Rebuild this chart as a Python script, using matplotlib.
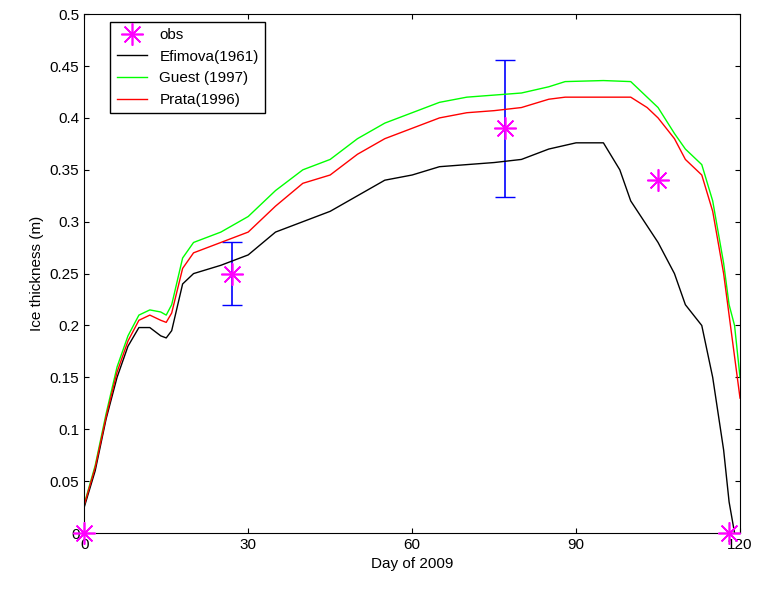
import matplotlib.pyplot as plt

plt.rcParams['font.family'] = ['Liberation Sans', 'DejaVu Sans']

day_e = [0, 2, 4, 6, 8, 10, 12, 14, 15, 16, 18, 20, 25, 30, 35, 40, 45, 50, 55, 60, 65, 70, 75, 80, 85, 90, 95, 98, 100, 105, 108, 110, 113, 115, 117, 118, 119]
efimova = [0.025, 0.06, 0.11, 0.15, 0.18, 0.198, 0.198, 0.19, 0.188, 0.195, 0.24, 0.25, 0.258, 0.268, 0.29, 0.30, 0.31, 0.325, 0.34, 0.345, 0.353, 0.355, 0.357, 0.36, 0.37, 0.376, 0.376, 0.35, 0.32, 0.28, 0.25, 0.22, 0.20, 0.15, 0.08, 0.03, 0.0]

day_g = [0, 2, 4, 6, 8, 10, 12, 14, 15, 16, 18, 20, 25, 30, 35, 40, 45, 50, 55, 60, 65, 70, 75, 80, 85, 88, 95, 100, 103, 105, 108, 110, 113, 115, 117, 118, 119, 120]
guest = [0.028, 0.065, 0.115, 0.16, 0.19, 0.21, 0.215, 0.213, 0.21, 0.22, 0.265, 0.28, 0.29, 0.305, 0.33, 0.35, 0.36, 0.38, 0.395, 0.405, 0.415, 0.42, 0.422, 0.424, 0.43, 0.435, 0.436, 0.435, 0.42, 0.41, 0.385, 0.37, 0.355, 0.32, 0.26, 0.22, 0.20, 0.15]
prata = [0.027, 0.063, 0.112, 0.155, 0.185, 0.205, 0.21, 0.205, 0.203, 0.212, 0.255, 0.27, 0.28, 0.29, 0.315, 0.337, 0.345, 0.365, 0.38, 0.39, 0.40, 0.405, 0.407, 0.41, 0.418, 0.42, 0.42, 0.42, 0.41, 0.40, 0.38, 0.36, 0.345, 0.31, 0.25, 0.21, 0.17, 0.13]

obs_day = [0, 27, 77, 105, 118]
obs_val = [0, 0.25, 0.39, 0.34, 0]
err_day = [27, 77]
err_val = [0.25, 0.39]
err_low = [0.03, 0.066]
err_high = [0.03, 0.066]

fig = plt.figure(figsize=(7.59, 5.89), dpi=100)
ax = fig.add_axes([0.111, 0.095, 0.864, 0.881])

ax.errorbar(err_day, err_val, yerr=[err_low, err_high], fmt='none', ecolor='blue', capsize=7, lw=1.2)
ax.plot(obs_day, obs_val, linestyle='none', marker=(8, 2, 0), color='magenta', markersize=16, mew=1.2, label='obs', clip_on=False, zorder=5)
ax.plot(day_e, efimova, color='black', lw=1, label='Efimova(1961)')
ax.plot(day_g, guest, color='#00ff00', lw=1, label='Guest (1997)')
ax.plot(day_g, prata, color='red', lw=1, label='Prata(1996)')

ax.set_xlim(0, 120)
ax.set_ylim(0, 0.5)
ax.set_xticks([0, 30, 60, 90, 120])
ax.set_yticks([0, 0.05, 0.1, 0.15, 0.2, 0.25, 0.3, 0.35, 0.4, 0.45, 0.5])
ax.set_yticklabels(['0', '0.05', '0.1', '0.15', '0.2', '0.25', '0.3', '0.35', '0.4', '0.45', '0.5'])
ax.tick_params(direction='in', labelsize=11, top=True, right=True)
ax.set_xlabel('Day of 2009', fontsize=11)
ax.set_ylabel('Ice thickness (m)', fontsize=11)
ax.legend(loc='upper left', bbox_to_anchor=(0.04, 0.985), fontsize=11, fancybox=False, edgecolor='black', framealpha=1, borderaxespad=0)

fig.savefig('out.png')
